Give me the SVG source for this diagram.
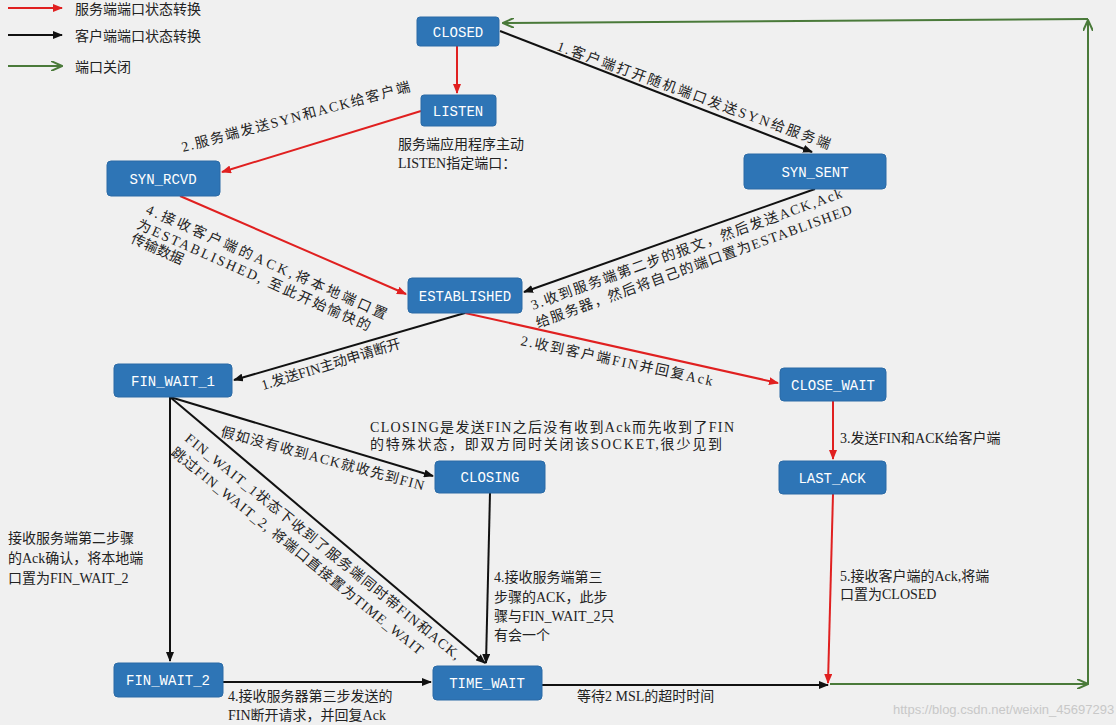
<svg xmlns="http://www.w3.org/2000/svg" width="1116" height="725" viewBox="0 0 1116 725">
<style>
.n rect{fill:#2e75b6;stroke:#2a6aa6;stroke-width:1}
.n text{fill:#fff;font-family:"Liberation Mono","Noto Sans CJK SC",monospace;font-size:14px;text-anchor:middle}
.t{font-family:"Liberation Serif","Noto Sans CJK SC",serif;font-size:14px;fill:#222}
.r{stroke:#e02020;stroke-width:2;fill:none;marker-end:url(#ar)}
.b{stroke:#111;stroke-width:2;fill:none;marker-end:url(#ab)}
.g{stroke:#4a7a3a;stroke-width:2;fill:none;marker-end:url(#ag)}
</style>
<defs>
<marker id="ar" markerWidth="10" markerHeight="8" refX="9" refY="4" orient="auto" markerUnits="userSpaceOnUse"><path d="M0,0L10,4L0,8z" fill="#e02020"/></marker>
<marker id="ab" markerWidth="10" markerHeight="8" refX="9" refY="4" orient="auto" markerUnits="userSpaceOnUse"><path d="M0,0L10,4L0,8z" fill="#111"/></marker>
<marker id="ag" markerWidth="12" markerHeight="10" refX="11" refY="5" orient="auto" markerUnits="userSpaceOnUse"><path d="M0,0L11,5L0,10" fill="none" stroke="#4a7a3a" stroke-width="2"/></marker>
</defs>
<rect width="1116" height="725" fill="#f0f0f0"/>
<g id="legend">
<line x1="8" y1="8" x2="62" y2="8" class="r"/><text class="t" x="75" y="14">服务端端口状态转换</text>
<line x1="8" y1="35" x2="62" y2="35" class="b"/><text class="t" x="75" y="41">客户端端口状态转换</text>
<line x1="8" y1="66" x2="62" y2="66" class="g"/><text class="t" x="75" y="72">端口关闭</text>
</g>
<g id="connectors">
<line class="r" x1="457" y1="46" x2="457" y2="93"/>
<line class="r" x1="421" y1="111" x2="222" y2="172"/>
<line class="r" x1="180" y1="196" x2="406" y2="294"/>
<line class="r" x1="465" y1="313" x2="778" y2="383"/>
<line class="r" x1="833" y1="401" x2="833" y2="459"/>
<line class="r" x1="833" y1="494" x2="828" y2="683"/>
<line class="b" x1="500" y1="31" x2="812" y2="152"/>
<line class="b" x1="815" y1="189" x2="524" y2="292"/>
<line class="b" x1="465" y1="313" x2="234" y2="380"/>
<line class="b" x1="170" y1="397" x2="170" y2="661"/>
<line class="b" x1="170" y1="397" x2="433" y2="476"/>
<line class="b" x1="170" y1="397" x2="485" y2="663"/>
<line class="b" x1="490" y1="493" x2="486" y2="663"/>
<line class="b" x1="223" y1="682" x2="431" y2="682"/>
<line class="b" x1="542" y1="685" x2="828" y2="685"/>
<line class="g" x1="830" y1="684" x2="1088" y2="684"/>
<line class="g" x1="1088" y1="684" x2="1088" y2="20"/>
<line class="g" x1="1088" y1="19" x2="503" y2="23"/>
</g>
<g id="closed" class="n"><rect x="417" y="17" width="82" height="29" rx="3"/><text x="458" y="37">CLOSED</text></g>
<g id="listen" class="n"><rect x="421" y="95" width="75" height="31" rx="3"/><text x="458" y="116">LISTEN</text></g>
<g id="syn_rcvd" class="n"><rect x="107" y="161" width="113" height="35" rx="4"/><text x="163" y="184">SYN_RCVD</text></g>
<g id="syn_sent" class="n"><rect x="744" y="154" width="142" height="35" rx="4"/><text x="815" y="177">SYN_SENT</text></g>
<g id="established" class="n"><rect x="408" y="278" width="114" height="35" rx="4"/><text x="465" y="301">ESTABLISHED</text></g>
<g id="fin_wait_1" class="n"><rect x="114" y="364" width="118" height="33" rx="4"/><text x="173" y="386">FIN_WAIT_1</text></g>
<g id="close_wait" class="n"><rect x="780" y="368" width="106" height="33" rx="4"/><text x="833" y="390">CLOSE_WAIT</text></g>
<g id="closing" class="n"><rect x="435" y="461" width="110" height="32" rx="4"/><text x="490" y="482">CLOSING</text></g>
<g id="last_ack" class="n"><rect x="779" y="461" width="107" height="33" rx="4"/><text x="832" y="483">LAST_ACK</text></g>
<g id="fin_wait_2" class="n"><rect x="114" y="663" width="109" height="34" rx="4"/><text x="168" y="685">FIN_WAIT_2</text></g>
<g id="time_wait" class="n"><rect x="433" y="666" width="109" height="34" rx="4"/><text x="487" y="688">TIME_WAIT</text></g>
<g id="labels">
<text class="t" transform="translate(556,50) rotate(20)" textLength="290">1.客户端打开随机端口发送SYN给服务端</text>
<text class="t" transform="translate(183,152) rotate(-15)" textLength="236">2.服务端发送SYN和ACK给客户端</text>
<text class="t" x="398" y="149">服务端应用程序主动</text>
<text class="t" x="398" y="168">LISTEN指定端口：</text>
<text class="t" transform="translate(145,213) rotate(24)" textLength="262">4.接收客户端的ACK,将本地端口置</text>
<text class="t" transform="translate(136,228) rotate(24)" textLength="254">为ESTABLISHED, 至此开始愉快的</text>
<text class="t" transform="translate(130,242) rotate(24)">传输数据</text>
<text class="t" transform="translate(533,310) rotate(-20)" textLength="330">3.收到服务端第二步的报文，然后发送ACK,Ack</text>
<text class="t" transform="translate(538,328) rotate(-20)" textLength="335">给服务器，然后将自己的端口置为ESTABLISHED</text>
<text class="t" transform="translate(263,390) rotate(-17)">1.发送FIN主动申请断开</text>
<text class="t" transform="translate(520,345) rotate(12)" textLength="196">2.收到客户端FIN并回复Ack</text>
<text class="t" x="840" y="443">3.发送FIN和ACK给客户端</text>
<text class="t" x="370" y="432" textLength="364">CLOSING是发送FIN之后没有收到Ack而先收到了FIN</text>
<text class="t" x="370" y="449" textLength="352">的特殊状态，即双方同时关闭该SOCKET,很少见到</text>
<text class="t" transform="translate(220,436) rotate(15)" textLength="210">假如没有收到ACK就收先到FIN</text>
<text class="t" transform="translate(184,440) rotate(39)" textLength="350">FIN_WAIT_1状态下收到了服务端同时带FIN和ACK,</text>
<text class="t" transform="translate(170,454) rotate(39)" textLength="320">跳过FIN_WAIT_2, 将端口直接置为TIME_WAIT</text>
<text class="t" x="8" y="543">接收服务端第二步骤</text>
<text class="t" x="8" y="563">的Ack确认，将本地端</text>
<text class="t" x="8" y="583">口置为FIN_WAIT_2</text>
<text class="t" x="494" y="582">4.接收服务端第三</text>
<text class="t" x="494" y="602">步骤的ACK，此步</text>
<text class="t" x="494" y="621">骤与FIN_WAIT_2只</text>
<text class="t" x="494" y="640">有会一个</text>
<text class="t" x="840" y="581">5.接收客户端的Ack,将端</text>
<text class="t" x="840" y="599">口置为CLOSED</text>
<text class="t" x="228" y="701">4.接收服务器第三步发送的</text>
<text class="t" x="228" y="720">FIN断开请求，并回复Ack</text>
<text class="t" x="577" y="701">等待2 MSL的超时时间</text>
<text x="893" y="714" style="font-family:'Liberation Sans',sans-serif;font-size:13px;fill:#c8c8c8">https://blog.csdn.net/weixin_45697293</text>
</g>
</svg>
